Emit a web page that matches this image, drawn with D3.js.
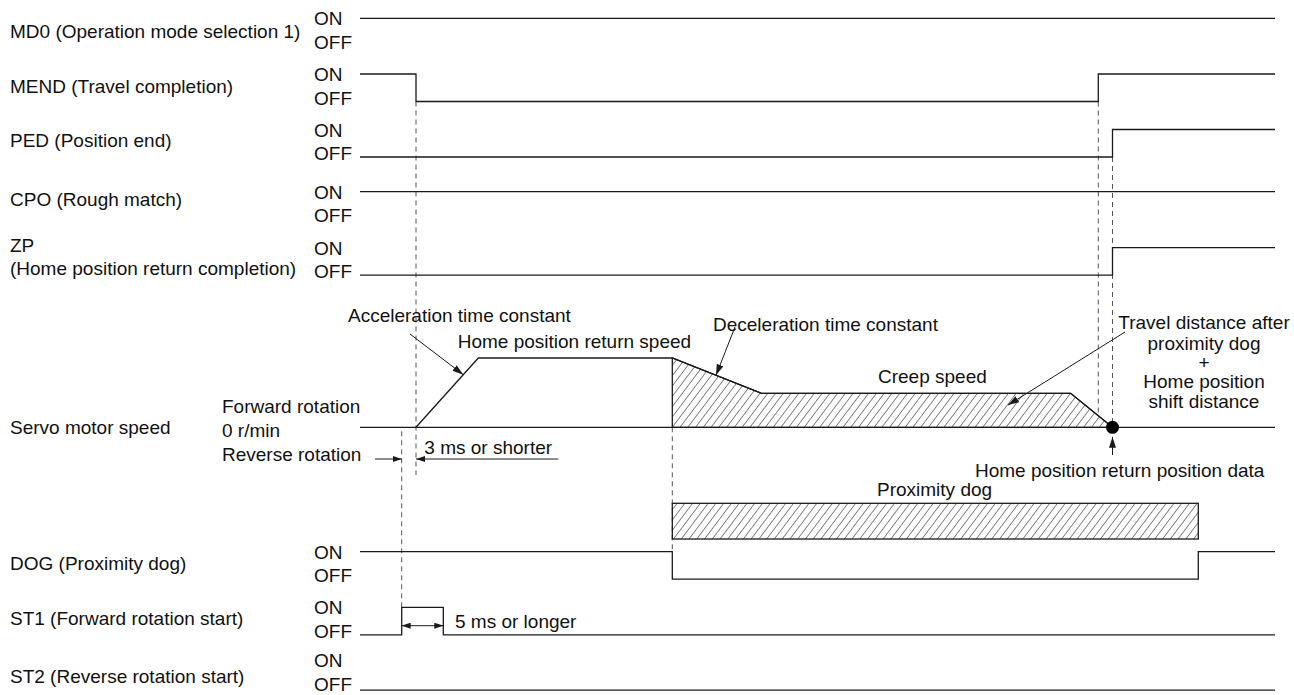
<!DOCTYPE html>
<html><head><meta charset="utf-8">
<script src="https://cdn.jsdelivr.net/npm/d3@7"></script>
<style>
html,body{margin:0;padding:0;background:#fff;}
svg text{font-family:"Liberation Sans",Arial,sans-serif;font-size:19px;fill:#111;}
</style></head><body>
<svg id="c" width="1294" height="695"></svg>
<script>
// ---------------- data ----------------
const signalNames = [
  ["MD0 (Operation mode selection 1)"],
  ["MEND (Travel completion)"],
  ["PED (Position end)"],
  ["CPO (Rough match)"],
  ["ZP", "(Home position return completion)"],
  ["DOG (Proximity dog)"],
  ["ST1 (Forward rotation start)"],
  ["ST2 (Reverse rotation start)"]
];
// step changes: [time, level] (1 = ON, 0 = OFF)
const signalSteps = [
  [[0, 1]],
  [[0, 1], [56, 0], [738.3, 1]],
  [[0, 0], [752.5, 1]],
  [[0, 1]],
  [[0, 0], [752.5, 1]],
  [[0, 1], [312.3, 0], [838.3, 1]],
  [[0, 0], [41.7, 1], [83.3, 0]],
  [[0, 0]]
];
const levelLabels = ["ON", "OFF"];
const timeEnd = 915;
// servo motor speed profile (relative to home position return speed)
const speedTimes  = [56, 118.3, 312.3, 401.6, 710.7, 752.5];
const speedValues = [0, 1, 1, 0.49, 0.49, 0];
const speedAxisLabels = ["Forward rotation", "0 r/min", "Reverse rotation"];
const dogInterval = [312.3, 838.3];

// ---------------- layout ----------------
const rowOnY   = [18.3, 74, 129.5, 191.7, 247.7, 551.7, 607.3, 662.7];
const rowLabelY = [[31.7], [86.7], [140.5], [199.3], [245, 268.3], [563.3], [618.3], [676]];
const levelLabelShift = [0, 0, 0, 0, 0, 0, 0, -2.5];
const levelH = 27.5;

const svg = d3.select("#c");
const x = d3.scaleLinear().domain([0, timeEnd]).range([360, 1275]);
const yS = d3.scaleLinear().domain([0, 1]).range([427.3, 358]);
const yLevel = (row, lv) => rowOnY[row] + (1 - lv) * levelH;
const speedAt = t => {
  for (let i = 0; i < speedTimes.length - 1; i++) {
    if (t >= speedTimes[i] && t <= speedTimes[i + 1]) {
      const f = (t - speedTimes[i]) / (speedTimes[i + 1] - speedTimes[i]);
      return speedValues[i] + f * (speedValues[i + 1] - speedValues[i]);
    }
  }
  return 0;
};

const INK = "#1a1a1a";
const defs = svg.append("defs");
const pat = defs.append("pattern").attr("id", "hatch").attr("patternUnits", "userSpaceOnUse")
  .attr("width", 6.2).attr("height", 12).attr("patternTransform", "rotate(37)");
pat.append("line").attr("x1", 0).attr("y1", -1).attr("x2", 0).attr("y2", 13)
  .attr("stroke", "#111").attr("stroke-width", 1);
function marker(id, len, wid) {
  defs.append("marker").attr("id", id).attr("markerUnits", "userSpaceOnUse")
    .attr("viewBox", `0 0 ${len} ${wid}`).attr("refX", len).attr("refY", wid / 2)
    .attr("markerWidth", len).attr("markerHeight", wid).attr("orient", "auto-start-reverse")
    .append("path").attr("d", `M0,0L${len},${wid / 2}L0,${wid}Z`).attr("fill", INK);
}
marker("arrL", 11, 7);
marker("arrS", 9, 6);

// ---------------- dashed time markers ----------------
const dashed = [
  [41.7, yS(0) + 4, yLevel(6, 1)],
  [56, yLevel(1, 0), 475],
  [312.3, yS(0), yLevel(5, 1)],
  [738.3, yLevel(1, 0), yS(speedAt(738.3))],
  [752.5, yLevel(2, 0), yS(0) - 6]
];
svg.append("g").selectAll("line").data(dashed).join("line")
  .attr("x1", d => x(d[0])).attr("x2", d => x(d[0]))
  .attr("y1", d => d[1]).attr("y2", d => d[2])
  .attr("stroke", "#555").attr("stroke-width", 1).attr("stroke-dasharray", "5,4");

// ---------------- signal rows ----------------
const stepLine = d3.line().curve(d3.curveStepAfter);
signalSteps.forEach((steps, r) => {
  const pts = steps.map(s => [x(s[0]), yLevel(r, s[1])]);
  pts.push([x(timeEnd), yLevel(r, steps[steps.length - 1][1])]);
  svg.append("path").attr("d", stepLine(pts)).attr("fill", "none")
    .attr("stroke", INK).attr("stroke-width", 1.3);
  const g = svg.append("g");
  signalNames[r].forEach((t, i) => {
    g.append("text").attr("x", 10).attr("y", rowLabelY[r][i]).attr("dy", "0.35em").text(t);
  });
  levelLabels.forEach((t, i) => {
    g.append("text").attr("x", 314).attr("y", rowOnY[r] + 0.5 + i * 23.5 + levelLabelShift[r])
      .attr("dy", "0.35em").text(t);
  });
});

// ---------------- servo motor speed ----------------
svg.append("text").attr("x", 10).attr("y", yS(0)).attr("dy", "0.35em").text("Servo motor speed");
speedAxisLabels.forEach((t, i) => {
  svg.append("text").attr("x", 222).attr("y", [406.7, 430, 454][i]).attr("dy", "0.35em").text(t);
});
svg.append("line").attr("x1", x(0)).attr("x2", x(timeEnd)).attr("y1", yS(0)).attr("y2", yS(0))
  .attr("stroke", INK).attr("stroke-width", 1.3);
// hatched region (after proximity dog)
const hatchPts = speedTimes.map((t, i) => [t, speedValues[i]]).filter(p => p[0] >= dogInterval[0]);
hatchPts.unshift([dogInterval[0], 0]);
svg.append("path").attr("d", d3.line().x(d => x(d[0])).y(d => yS(d[1]))(hatchPts) + "Z")
  .attr("fill", "url(#hatch)").attr("stroke", INK).attr("stroke-width", 1.3);
svg.append("path")
  .attr("d", d3.line().x(d => x(d)).y((d, i) => yS(speedValues[i]))(speedTimes))
  .attr("fill", "none").attr("stroke", INK).attr("stroke-width", 1.3);
svg.append("circle").attr("cx", x(speedTimes[speedTimes.length - 1])).attr("cy", yS(0)).attr("r", 6.5).attr("fill", "#000");

// annotations
const ann = [
  ["Acceleration time constant", 348, 315.7],
  ["Home position return speed", 457.7, 341.7],
  ["Deceleration time constant", 713, 324],
  ["Creep speed", 878, 376],
  ["Home position return position data", 975, 470],
  ["Proximity dog", 877, 489.5],
  ["3 ms or shorter", 424.3, 447.3],
  ["5 ms or longer", 455, 621]
];
svg.append("g").selectAll("text").data(ann).join("text")
  .attr("x", d => d[1]).attr("y", d => d[2]).attr("dy", "0.35em").text(d => d[0]);
const travel = ["Travel distance after", "proximity dog", "+", "Home position", "shift distance"];
svg.append("g").selectAll("text").data(travel).join("text")
  .attr("x", 1204).attr("y", (d, i) => [322, 343, 362, 381, 401][i]).attr("dy", "0.35em")
  .attr("text-anchor", "middle").text(d => d);

// leader arrows
const leaders = [
  [410, 334, x(103.3), yS(speedAt(103.3))],
  [735, 327, x(356), yS(speedAt(356))],
  [1125, 332, x(648), yS(0.32)],
  [x(752.5), 455, x(752.5), yS(0) + 9.5]
];
svg.append("g").selectAll("line").data(leaders).join("line")
  .attr("x1", d => d[0]).attr("y1", d => d[1]).attr("x2", d => d[2]).attr("y2", d => d[3])
  .attr("stroke", INK).attr("stroke-width", 1).attr("marker-end", "url(#arrL)");

// dimension arrows
const dimY1 = 459;
svg.append("line").attr("x1", x(15)).attr("x2", x(41.7)).attr("y1", dimY1).attr("y2", dimY1)
  .attr("stroke", INK).attr("stroke-width", 1).attr("marker-end", "url(#arrS)");
svg.append("line").attr("x1", x(198.3)).attr("x2", x(56)).attr("y1", dimY1).attr("y2", dimY1)
  .attr("stroke", INK).attr("stroke-width", 1).attr("marker-end", "url(#arrS)");
svg.append("line").attr("x1", x(41.7)).attr("x2", x(83.3)).attr("y1", 625.7).attr("y2", 625.7)
  .attr("stroke", INK).attr("stroke-width", 1)
  .attr("marker-start", "url(#arrS)").attr("marker-end", "url(#arrS)");

// proximity dog bar
svg.append("rect").attr("x", x(dogInterval[0])).attr("y", 503.3)
  .attr("width", x(dogInterval[1]) - x(dogInterval[0])).attr("height", 35.7)
  .attr("fill", "url(#hatch)").attr("stroke", INK).attr("stroke-width", 1.3);
</script></body></html>
